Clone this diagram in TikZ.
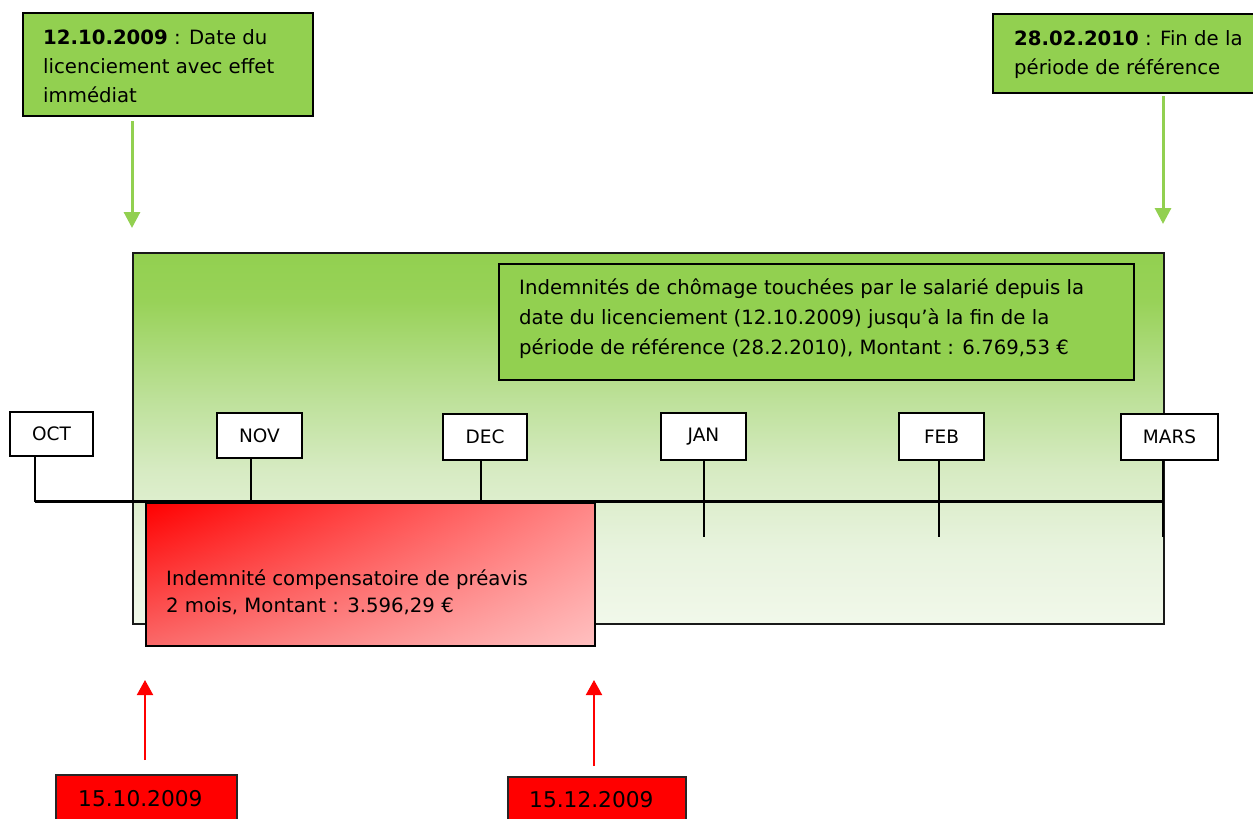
\documentclass[tikz,border=0pt]{standalone}
\usepackage{fontspec}
\setmainfont{DejaVu Sans}
\usetikzlibrary{arrows.meta,calc,shadings}
\definecolor{gfill}{RGB}{146,208,80}
\definecolor{gc0}{RGB}{241,248,234}
\definecolor{gc1}{RGB}{232,243,222}
\definecolor{gc2}{RGB}{215,235,195}
\definecolor{gc3}{RGB}{190,225,155}
\definecolor{gc4}{RGB}{152,210,88}
\definecolor{rdark}{RGB}{255,0,0}
\definecolor{rmidA}{RGB}{255,135,135}
\definecolor{rmidB}{RGB}{250,105,105}
\definecolor{rlight}{RGB}{255,192,192}
\pgfdeclareverticalshading{gfade}{100bp}{color(0bp)=(gc0); color(25bp)=(gc0); color(35bp)=(gc1); color(45.6bp)=(gc2); color(55bp)=(gc3); color(68.5bp)=(gc4); color(75bp)=(gfill); color(100bp)=(gfill)}
\begin{document}
\begin{tikzpicture}[x=1pt,y=-1pt,
  txt/.style={inner sep=0pt, align=left, font=\fontsize{19.7}{30}\selectfont, anchor=west},
  gbox/.style={draw=black, line width=2.2pt, fill=gfill, anchor=north west, inner sep=0pt},
  month/.style={draw=black, line width=1.8pt, fill=white, inner sep=0pt, font=\fontsize{18.5}{22}\selectfont},
  tick/.style={line width=1.7pt},
  garrow/.style={draw=gfill, line width=3pt, -{Triangle[width=16pt,length=16pt]}},
  rarrow/.style={draw=rdark, line width=2pt, -{Triangle[width=16pt,length=15pt]}},
  dbox/.style={draw=black!85, line width=1.8pt, fill=rdark, anchor=north west, inner sep=0pt},
  dtxt/.style={inner sep=0pt, anchor=base west, font=\fontsize{21.7}{26}\selectfont}
]
\useasboundingbox (0,0) rectangle (1253,819);

% big shaded rectangle
\node[anchor=north west, minimum width=1031pt, minimum height=371pt, inner sep=0pt,
      shade, shading=gfade, draw=black!90, line width=1.8pt] (main) at (132,252) {};

% inner green box
\node[gbox, minimum width=635pt, minimum height=116pt] (ind) at (498,263) {};
\node[txt] (indt) at (519,319) {Indemnités de chômage touchées par le salarié depuis la\\date du licenciement (12.10.2009) jusqu’à la fin de la\\période de référence (28.2.2010), Montant : 6.769,53 €};

% timeline
\coordinate (t1) at (35,501.5);
\coordinate (tend) at (1163,501.5);
\coordinate (t2) at (251,501.5);
\coordinate (t3) at (481,501.5);
\coordinate (t4) at (704,537);
\coordinate (t5) at (939,537);
\coordinate (t6) at (1163,537);

\node[month, minimum width=83pt, minimum height=44pt] (oct) at (51.5,434) {OCT};
\node[month, minimum width=85pt, minimum height=45pt] (nov) at (259.5,435.5) {NOV};
\node[month, minimum width=84pt, minimum height=46pt] (dec) at (485,437) {DEC};
\node[month, minimum width=85pt, minimum height=47pt] (jan) at (703.5,436.5) {JAN};
\node[month, minimum width=85pt, minimum height=47pt] (feb) at (941.5,436.5) {FEB};
\node[month, minimum width=97pt, minimum height=46pt] (mars) at (1169.5,437) {MARS};

\draw[tick] (oct.south -| t1) -- (t1);
\draw[tick] (nov.south -| t2) -- (t2);
\draw[tick] (dec.south -| t3) -- (t3);
\draw[tick] (jan.south -| t4) -- (t4);
\draw[tick] (feb.south -| t5) -- (t5);
\draw[tick] (mars.south -| t6) -- (t6);
\draw[line width=2.5pt] (t1) -- (tend);

% red box
\node[anchor=north west, minimum width=449pt, minimum height=143pt, inner sep=0pt,
      draw=black, line width=2.2pt, upper left=rdark, upper right=rmidA,
      lower left=rmidB, lower right=rlight] (pre) at (145,501.5) {};
\node[txt, font=\fontsize{19.7}{27}\selectfont] (pret) at (166,592.3) {Indemnité compensatoire de préavis\\2 mois, Montant : 3.596,29 €};

% top boxes
\node[gbox, minimum width=290pt, minimum height=103pt] (tl) at (22,12) {};
\node[txt, font=\fontsize{19.7}{29}\selectfont] (tlt) at (43,66.6) {\textbf{12.10.2009} : Date du\\licenciement avec effet\\immédiat};
\node[gbox, minimum width=275pt, minimum height=79pt] (tr) at (992,13) {};
\node[txt, font=\fontsize{19.7}{29}\selectfont] (trt) at (1014,54.4) {\textbf{28.02.2010} : Fin de la\\période de référence};

\coordinate (ga1) at (132,228);
\coordinate (ga2) at (1163,224);
\draw[garrow] ([yshift=-4pt]tl.south -| ga1) -- (ga1);
\draw[garrow] ([yshift=-2pt]tr.south -| ga2) -- (ga2);

% date boxes
\node[dbox, minimum width=181pt, minimum height=60pt] (d1) at (55,774) {};
\node[dtxt] (d1t) at (78,806) {15.10.2009};
\node[dbox, minimum width=178pt, minimum height=60pt] (d2) at (507,776) {};
\node[dtxt] (d2t) at (529,807) {15.12.2009};

\coordinate (ra1) at (145,680);
\coordinate (ra2) at (594,680);
\draw[rarrow] ([yshift=14pt]d1.north -| ra1) -- (ra1);
\draw[rarrow] ([yshift=10pt]d2.north -| ra2) -- (ra2);
\end{tikzpicture}
\end{document}
